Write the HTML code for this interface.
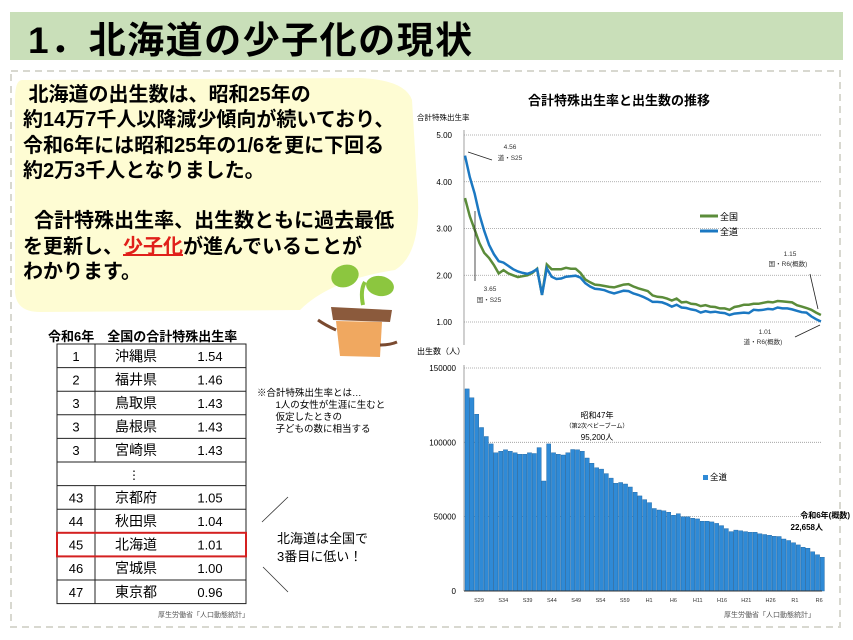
<!DOCTYPE html>
<html><head><meta charset="utf-8"><style>
body{margin:0;background:#fff;}
#w{position:relative;width:853px;height:640px;overflow:hidden;font-family:"Liberation Sans","Noto Sans CJK JP",sans-serif;}
.a{position:absolute;white-space:nowrap;}
</style></head><body><div id="w">
<svg width="853" height="640" style="position:absolute;left:0;top:0" id="s" font-family="Liberation Sans, Noto Sans CJK JP, sans-serif">
<rect x="10" y="12" width="833" height="48" fill="#c9dfb9"/>
<rect x="11" y="71" width="829" height="556" fill="none" stroke="#d8d8d0" stroke-width="2" stroke-dasharray="7,5"/>
<path d="M22,80 L360,78 Q405,80 412,100 L418,200 Q420,255 395,270 Q330,280 300,310 L40,312 Q15,312 15,290 L15,100 Q15,80 22,80 Z" fill="#fefcd3"/>
<path d="M363,305 Q360,290 365,282" stroke="#8cc63f" stroke-width="4" fill="none"/>
<ellipse cx="345" cy="276" rx="14" ry="11" fill="#8cc63f" transform="rotate(-20 345 276)"/>
<ellipse cx="380" cy="286" rx="14" ry="10" fill="#8cc63f" transform="rotate(10 380 286)"/>
<path d="M331,307 L392,310 L390,322 L333,320 Z" fill="#8b5a3c"/>
<path d="M336,321 L382,322 L380,357 L340,356 Z" fill="#f0a860"/>
<path d="M336,330 Q325,325 318,320" stroke="#7a4a30" stroke-width="3" fill="none"/>
<path d="M380,345 Q390,345 397,342" stroke="#7a4a30" stroke-width="3" fill="none"/>
<g id="tbl"></g>
<line x1="262" y1="522" x2="288" y2="497" stroke="#333" stroke-width="0.8"/>
<line x1="263" y1="567" x2="288" y2="592" stroke="#333" stroke-width="0.8"/>
<g id="top"></g>
<g id="bot"></g>
</svg>
<div class="a" style="left:28px;top:10px;font-size:37px;font-weight:bold;letter-spacing:1.5px">1．北海道の少子化の現状</div>
<div class="a" style="left:23px;top:83px;font-size:20px;font-weight:bold;line-height:25.3px">&nbsp;北海道の出生数は、昭和25年の<br>約14万7千人以降減少傾向が続いており、<br>令和6年には昭和25年の1/6を更に下回る<br>約2万3千人となりました。<br><br>&nbsp;&nbsp;合計特殊出生率、出生数ともに過去最低<br>を更新し、<span style="color:#e0201a;text-decoration:underline">少子化</span>が進んでいることが<br>わかります。</div>
<div class="a" style="left:48px;top:326px;font-size:13px;font-weight:bold">令和6年　全国の合計特殊出生率</div>
<div class="a" style="left:257px;top:388px;font-size:9.5px;line-height:12px">※合計特殊出生率とは…<br>&nbsp;&nbsp;&nbsp;&nbsp;&nbsp;&nbsp;&nbsp;1人の女性が生涯に生むと<br>&nbsp;&nbsp;&nbsp;&nbsp;&nbsp;&nbsp;&nbsp;仮定したときの<br>&nbsp;&nbsp;&nbsp;&nbsp;&nbsp;&nbsp;&nbsp;子どもの数に相当する</div>
<div class="a" style="left:277px;top:530px;font-size:13px;line-height:18px">北海道は全国で<br>3番目に低い！</div>
<div class="a" style="left:158px;top:610px;font-size:7px;color:#555">厚生労働省「人口動態統計」</div>
<div class="a" style="left:724px;top:610px;font-size:7px;color:#555">厚生労働省「人口動態統計」</div>
<div class="a" style="left:528px;top:90px;font-size:13px;font-weight:bold">合計特殊出生率と出生数の推移</div>
<div class="a" style="left:417px;top:112px;font-size:7.5px">合計特殊出生率</div>
<div class="a" style="left:417px;top:346px;font-size:8px">出生数（人）</div>
<script>
var NS="http://www.w3.org/2000/svg";
function el(p,t,a,txt){var e=document.createElementNS(NS,t);for(var k in a)e.setAttribute(k,a[k]);if(txt!=null)e.textContent=txt;p.appendChild(e);return e;}
var tb=document.getElementById("tbl");
var rows=[["1","沖縄県","1.54"],["2","福井県","1.46"],["3","鳥取県","1.43"],["3","島根県","1.43"],["3","宮崎県","1.43"],null,["43","京都府","1.05"],["44","秋田県","1.04"],["45","北海道","1.01"],["46","宮城県","1.00"],["47","東京都","0.96"]];
var y0=344,rh=23.6;
el(tb,"rect",{x:57,y:y0,width:189,height:rh*11,fill:"none",stroke:"#222","stroke-width":1});
for(var i=0;i<11;i++){var y=y0+i*rh;if(i>0)el(tb,"line",{x1:57,y1:y,x2:246,y2:y,stroke:"#222","stroke-width":1});
 if(rows[i]){el(tb,"line",{x1:95,y1:y,x2:95,y2:y+rh,stroke:"#222","stroke-width":1});
 var ty=y+rh/2+5;el(tb,"text",{x:76,y:ty,"font-size":13,"text-anchor":"middle"},rows[i][0]);
 el(tb,"text",{x:136,y:ty,"font-size":14,"text-anchor":"middle"},rows[i][1]);
 el(tb,"text",{x:210,y:ty,"font-size":13,"text-anchor":"middle"},rows[i][2]);}
 else{el(tb,"text",{x:134,y:y+rh/2+5,"font-size":12,"text-anchor":"middle"},"⋮");}}
el(tb,"rect",{x:57,y:y0+8*rh,width:189,height:rh,fill:"none",stroke:"#d42020","stroke-width":2});
var tp=document.getElementById("top");
var labs=["5.00","4.00","3.00","2.00","1.00"];
for(var i=0;i<5;i++){var y=135+i*46.75;el(tp,"line",{x1:464,y1:y,x2:822,y2:y,stroke:"#999","stroke-width":0.8,"stroke-dasharray":"1,1"});
 el(tp,"text",{x:452,y:y+3,"font-size":8,"text-anchor":"end"},labs[i]);}
el(tp,"line",{x1:464,y1:130,x2:464,y2:345,stroke:"#888","stroke-width":0.8});
var nat=[3.65,3.26,2.98,2.69,2.48,2.37,2.22,2.04,2.11,2.04,2.00,1.96,1.98,2.00,2.05,2.14,1.58,2.23,2.13,2.13,2.13,2.16,2.14,2.14,2.05,1.91,1.85,1.80,1.79,1.77,1.75,1.74,1.77,1.80,1.81,1.76,1.72,1.69,1.66,1.57,1.54,1.53,1.50,1.46,1.50,1.42,1.43,1.39,1.38,1.34,1.36,1.33,1.32,1.29,1.29,1.26,1.32,1.34,1.37,1.37,1.39,1.39,1.41,1.43,1.42,1.45,1.44,1.43,1.42,1.36,1.33,1.30,1.26,1.20,1.15];
var hok=[4.56,4.1,3.75,3.3,2.95,2.65,2.45,2.3,2.27,2.2,2.13,2.08,2.05,2.03,2.07,2.13,1.58,2.15,1.97,1.92,1.93,1.97,1.98,1.99,1.95,1.83,1.76,1.71,1.70,1.68,1.64,1.61,1.64,1.67,1.66,1.61,1.58,1.54,1.49,1.43,1.43,1.42,1.38,1.33,1.37,1.31,1.30,1.27,1.25,1.20,1.23,1.21,1.22,1.20,1.19,1.15,1.18,1.19,1.20,1.19,1.26,1.25,1.26,1.28,1.27,1.31,1.29,1.29,1.27,1.24,1.21,1.20,1.12,1.06,1.01];
function pts(a){return a.map(function(v,i){return (465+i*4.81).toFixed(1)+","+(322-(v-1)*46.75).toFixed(1)}).join(" ");}
el(tp,"polyline",{points:pts(nat),fill:"none",stroke:"#5b8c3a","stroke-width":2.5});
el(tp,"polyline",{points:pts(hok),fill:"none",stroke:"#1b78c2","stroke-width":2.5});
el(tp,"line",{x1:700,y1:216,x2:718,y2:216,stroke:"#5b8c3a","stroke-width":3});
el(tp,"text",{x:720,y:220,"font-size":9},"全国");
el(tp,"line",{x1:700,y1:231,x2:718,y2:231,stroke:"#1b78c2","stroke-width":3});
el(tp,"text",{x:720,y:235,"font-size":9},"全道");
function t(x,y,s,sz){el(tp,"text",{x:x,y:y,"font-size":sz||6.5,"text-anchor":"middle",fill:"#333"},s);}
t(510,149,"4.56");t(510,160,"道・S25");el(tp,"line",{x1:468,y1:152,x2:492,y2:160,stroke:"#222","stroke-width":0.8});
t(490,291,"3.65");t(489,302,"国・S25");el(tp,"line",{x1:475,y1:211,x2:475,y2:281,stroke:"#222","stroke-width":0.8});
t(790,256,"1.15");t(788,266,"国・R6(概数)");el(tp,"line",{x1:810,y1:274,x2:818,y2:309,stroke:"#222","stroke-width":0.8});
t(765,334,"1.01");t(763,344,"道・R6(概数)");el(tp,"line",{x1:795,y1:337,x2:820,y2:325,stroke:"#222","stroke-width":0.8});
var bt=document.getElementById("bot");
var bl=["150000","100000","50000","0"];
for(var i=0;i<4;i++){var y=368+i*74.3;if(i<3)el(bt,"line",{x1:464,y1:y,x2:822,y2:y,stroke:"#999","stroke-width":0.8,"stroke-dasharray":"1,1"});
 el(bt,"text",{x:456,y:y+3,"font-size":8,"text-anchor":"end"},bl[i]);}
var b=[136,130,119,110,104,99,93,94,95,94,93,92,92,93,92.5,96.5,74,99,93,92,91.5,93,95.2,95,94,89.5,86,83,82,79,76,72.5,73,72,70,66.5,64,61.5,59.5,55.5,54.5,54,53,51,52,50,50,49,48.5,47,47,46.5,45.5,44,42,40,41,40.5,40,39.5,39.5,38.5,38,37.5,36.8,36.7,35,34,32.5,31,29.5,28.8,26.4,24.4,22.7];
b.forEach(function(v,i){var h=v*74.3/50;el(bt,"rect",{x:(465+i*4.8).toFixed(1),y:(591-h).toFixed(1),width:4.2,height:h.toFixed(1),fill:"#2f8ad6",stroke:"#1a5f9c","stroke-width":0.4});});
el(bt,"line",{x1:464,y1:365,x2:464,y2:591,stroke:"#888","stroke-width":0.8});
el(bt,"line",{x1:464,y1:591,x2:822,y2:591,stroke:"#333","stroke-width":1});
var xl=["S29","S34","S39","S44","S49","S54","S59","H1","H6","H11","H16","H21","H26","R1","R6"];
xl.forEach(function(s,i){el(bt,"text",{x:479+i*24.3,y:602,"font-size":5.5,"text-anchor":"middle",fill:"#333"},s);});
el(bt,"rect",{x:703,y:475,width:5,height:5,fill:"#2f8ad6"});
el(bt,"text",{x:710,y:480,"font-size":8.5},"全道");
el(bt,"text",{x:597,y:418,"font-size":8,"text-anchor":"middle"},"昭和47年");
el(bt,"text",{x:597,y:428,"font-size":6,"text-anchor":"middle"},"（第2次ベビーブーム）");
el(bt,"text",{x:597,y:440,"font-size":8,"text-anchor":"middle"},"95,200人");
el(bt,"text",{x:850,y:518,"font-size":8,"font-weight":"bold","text-anchor":"end"},"令和6年(概数)");
el(bt,"text",{x:823,y:530,"font-size":8,"font-weight":"bold","text-anchor":"end"},"22,658人");
</script>
</div></body></html>
